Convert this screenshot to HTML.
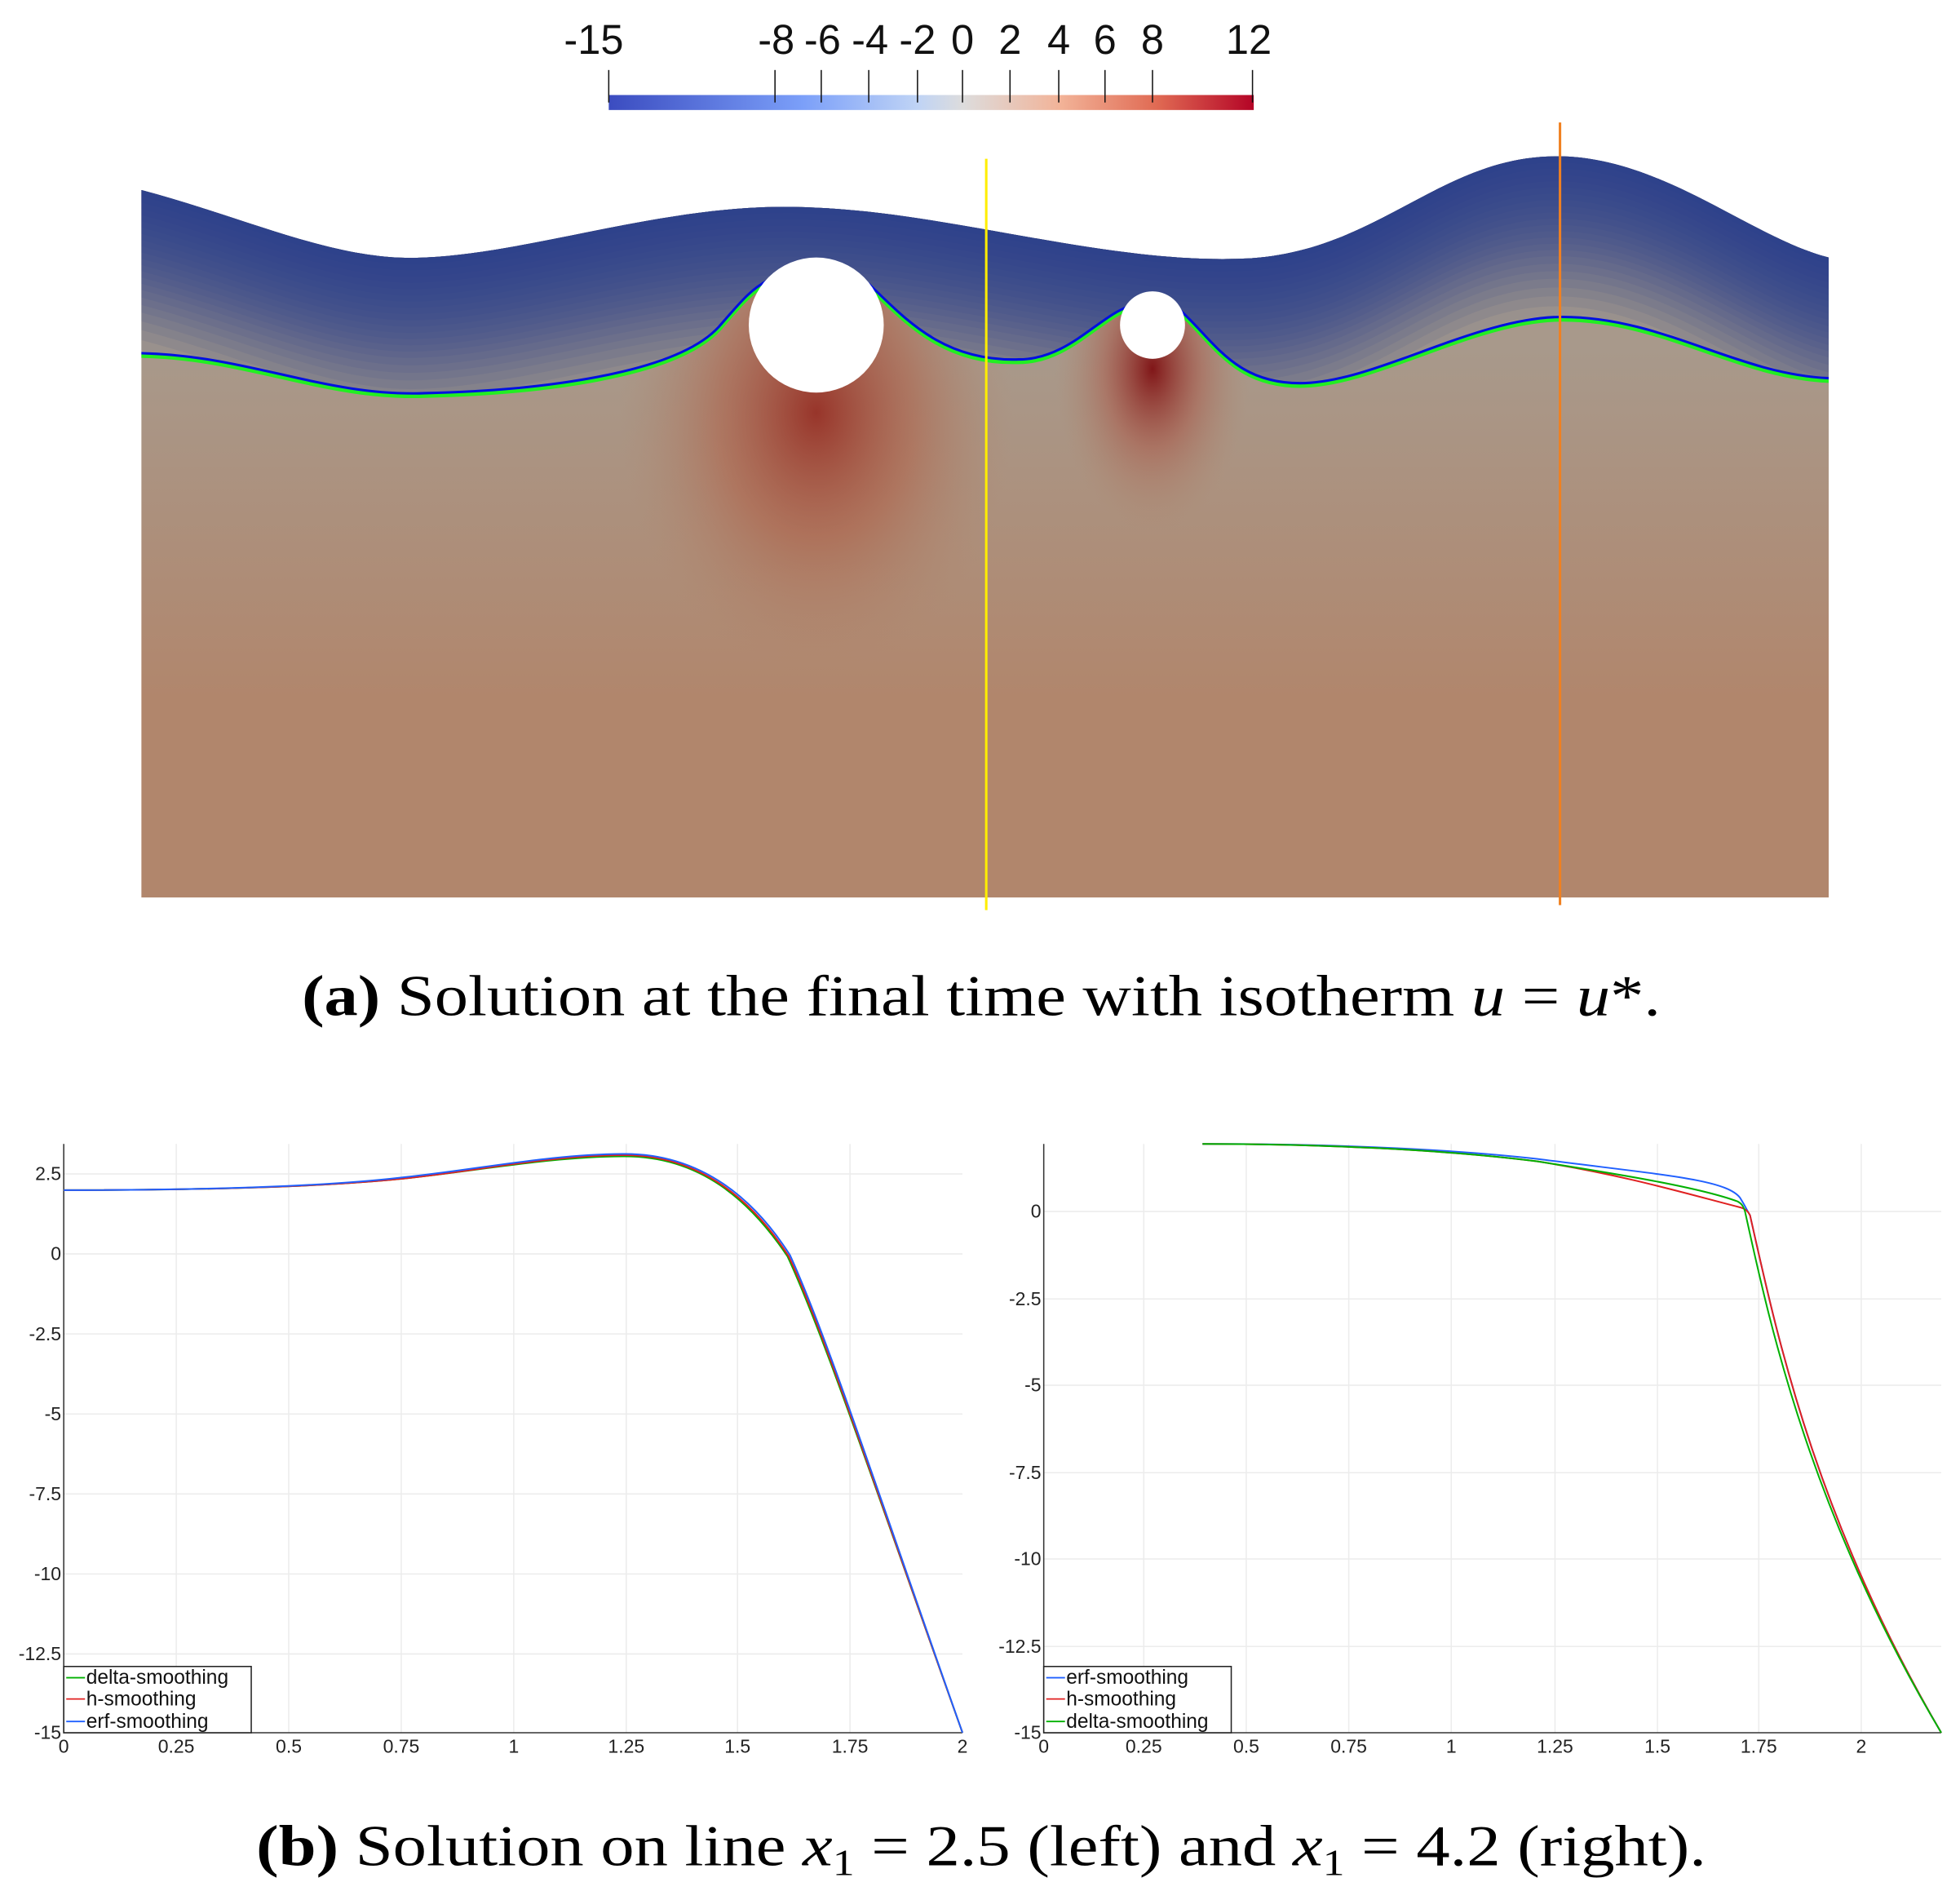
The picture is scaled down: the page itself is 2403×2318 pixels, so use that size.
<!DOCTYPE html>
<html><head><meta charset="utf-8"><style>html,body{margin:0;padding:0;background:#fff}svg{display:block}</style></head>
<body>
<svg width="2403" height="2318" viewBox="0 0 1568 1512.6" preserveAspectRatio="none" xmlns="http://www.w3.org/2000/svg">
<defs>
<linearGradient id="cb" x1="0" x2="1" y1="0" y2="0">
<stop offset="0" stop-color="#3b4cc0"/><stop offset="0.3" stop-color="#7b9ff9"/><stop offset="0.48" stop-color="#c0d4f5"/><stop offset="0.55" stop-color="#dddcdc"/><stop offset="0.7" stop-color="#f2b398"/><stop offset="0.85" stop-color="#e06a53"/><stop offset="1" stop-color="#b40426"/>
</linearGradient>
<linearGradient id="dom" x1="0" x2="0" y1="280" y2="560" gradientUnits="userSpaceOnUse">
<stop offset="0" stop-color="#a8998b"/><stop offset="1" stop-color="#b1866c"/>
</linearGradient>
<radialGradient id="h1" cx="653" cy="330" r="210" gradientTransform="translate(653 330) scale(0.75 1) translate(-653 -330)" gradientUnits="userSpaceOnUse">
<stop offset="0" stop-color="#962a20" stop-opacity="0.9"/><stop offset="0.5" stop-color="#b05a40" stop-opacity="0.5"/><stop offset="1" stop-color="#b1866c" stop-opacity="0"/>
</radialGradient>
<radialGradient id="h2" cx="922" cy="295" r="130" gradientTransform="translate(922 295) scale(0.6 1) translate(-922 -295)" gradientUnits="userSpaceOnUse">
<stop offset="0" stop-color="#7e0f12" stop-opacity="0.95"/><stop offset="0.5" stop-color="#aa5040" stop-opacity="0.45"/><stop offset="1" stop-color="#b1866c" stop-opacity="0"/>
</radialGradient>
<clipPath id="domc"><path d="M113,152 C200,175 270,210 340,206 C430,202 540,160 650,166 C760,170 880,210 990,207 C1100,205 1150,125 1245,125 C1330,125 1400,190 1463,206 L1463,718 L113,718 Z"/></clipPath>
<clipPath id="bandc"><path d="M113,283 C200,285 260,318 340,315 C430,313 540,300 575,262 C590,245 600,232 614,225 L653,260 L692,225 C720,250 750,290 815,288 C855,288 880,252 905,245 L922,260 L940,245 C970,270 985,307 1040,307 C1100,307 1180,254 1250,254 C1330,254 1390,300 1463,303 L1463,0 L113,0 Z"/></clipPath>
<path id="L" d="M113,152 C200,175 270,210 340,206 C430,202 540,160 650,166 C760,170 880,210 990,207 C1100,205 1150,125 1245,125 C1330,125 1400,190 1463,206 L1463,-40 L113,-40Z"/>
<path id="iso" d="M113,283 C200,285 260,318 340,315 C430,313 540,300 575,262 C590,245 600,232 614,225 L653,260 L692,225 C720,250 750,290 815,288 C855,288 880,252 905,245 L922,260 L940,245 C970,270 985,307 1040,307 C1100,307 1180,254 1250,254 C1330,254 1390,300 1463,303" fill="none"/>
</defs>

<g font-family="Liberation Sans, sans-serif" font-size="33" fill="#111" text-anchor="middle">
<text x="475" y="43">-15</text><text x="621" y="43">-8</text><text x="658" y="43">-6</text><text x="696" y="43">-4</text><text x="734" y="43">-2</text><text x="770" y="43">0</text><text x="808" y="43">2</text><text x="847" y="43">4</text><text x="884" y="43">6</text><text x="922" y="43">8</text><text x="999" y="43">12</text>
</g>
<rect x="487" y="76" width="516" height="12" fill="url(#cb)"/>
<g stroke="#111" stroke-width="1">
<line x1="487" y1="56" x2="487" y2="82"/><line x1="620" y1="56" x2="620" y2="82"/><line x1="657" y1="56" x2="657" y2="82"/><line x1="695" y1="56" x2="695" y2="82"/><line x1="734" y1="56" x2="734" y2="82"/><line x1="770" y1="56" x2="770" y2="82"/><line x1="808" y1="56" x2="808" y2="82"/><line x1="847" y1="56" x2="847" y2="82"/><line x1="884" y1="56" x2="884" y2="82"/><line x1="922" y1="56" x2="922" y2="82"/><line x1="1002" y1="56" x2="1002" y2="82"/>
</g>

<g clip-path="url(#domc)">
<rect x="113" y="100" width="1350" height="620" fill="url(#dom)"/>
<ellipse cx="653" cy="330" rx="160" ry="210" fill="url(#h1)"/>
<ellipse cx="922" cy="295" rx="78" ry="130" fill="url(#h2)"/>
<g clip-path="url(#bandc)">
<rect x="113" y="100" width="1350" height="220" fill="#a59a8e"/>
<g fill="#25358a" fill-opacity="0.085">
<use href="#L"/><use href="#L" transform="translate(0,5)"/><use href="#L" transform="translate(0,10)"/><use href="#L" transform="translate(0,15)"/><use href="#L" transform="translate(0,20)"/><use href="#L" transform="translate(0,25)"/><use href="#L" transform="translate(0,30)"/><use href="#L" transform="translate(0,35)"/><use href="#L" transform="translate(0,40)"/><use href="#L" transform="translate(0,45)"/><use href="#L" transform="translate(0,50)"/><use href="#L" transform="translate(0,55)"/><use href="#L" transform="translate(0,60)"/><use href="#L" transform="translate(0,65)"/><use href="#L" transform="translate(0,70)"/><use href="#L" transform="translate(0,75)"/><use href="#L" transform="translate(0,80)"/><use href="#L" transform="translate(0,86)"/><use href="#L" transform="translate(0,92)"/><use href="#L" transform="translate(0,98)"/><use href="#L" transform="translate(0,105)"/><use href="#L" transform="translate(0,112)"/><use href="#L" transform="translate(0,120)"/><use href="#L" transform="translate(0,128)"/>
</g>
</g>
<use href="#iso" stroke="#22ee22" stroke-width="3.5" transform="translate(0,1.5)"/>
<use href="#iso" stroke="#0010e0" stroke-width="2" transform="translate(0,-0.5)"/>
<ellipse cx="653" cy="260" rx="54" ry="54" fill="#fff"/>
<ellipse cx="922" cy="260" rx="26" ry="27" fill="#fff"/>
</g>
<line x1="789" y1="127" x2="789" y2="728" stroke="#ffee00" stroke-width="2"/>
<line x1="1248" y1="98" x2="1248" y2="724" stroke="#f08020" stroke-width="2"/>

<text x="785" y="812" font-family="Liberation Serif, serif" font-size="46" text-anchor="middle" textLength="1087" lengthAdjust="spacingAndGlyphs"><tspan font-weight="bold">(a)</tspan> Solution at the final time with isotherm <tspan font-style="italic">u</tspan> = <tspan font-style="italic">u</tspan>*.</text>

<g stroke="#ececec" stroke-width="1">
<line x1="141" y1="915" x2="141" y2="1386"/><line x1="231" y1="915" x2="231" y2="1386"/><line x1="321" y1="915" x2="321" y2="1386"/><line x1="411" y1="915" x2="411" y2="1386"/><line x1="501" y1="915" x2="501" y2="1386"/><line x1="590" y1="915" x2="590" y2="1386"/><line x1="680" y1="915" x2="680" y2="1386"/>
<line x1="51" y1="939" x2="770" y2="939"/><line x1="51" y1="1003" x2="770" y2="1003"/><line x1="51" y1="1067" x2="770" y2="1067"/><line x1="51" y1="1131" x2="770" y2="1131"/><line x1="51" y1="1195" x2="770" y2="1195"/><line x1="51" y1="1259" x2="770" y2="1259"/><line x1="51" y1="1323" x2="770" y2="1323"/>
<line x1="915" y1="915" x2="915" y2="1386"/><line x1="997" y1="915" x2="997" y2="1386"/><line x1="1079" y1="915" x2="1079" y2="1386"/><line x1="1161" y1="915" x2="1161" y2="1386"/><line x1="1244" y1="915" x2="1244" y2="1386"/><line x1="1326" y1="915" x2="1326" y2="1386"/><line x1="1407" y1="915" x2="1407" y2="1386"/><line x1="1489" y1="915" x2="1489" y2="1386"/>
<line x1="835" y1="969" x2="1553" y2="969"/><line x1="835" y1="1039" x2="1553" y2="1039"/><line x1="835" y1="1108" x2="1553" y2="1108"/><line x1="835" y1="1178" x2="1553" y2="1178"/><line x1="835" y1="1247" x2="1553" y2="1247"/><line x1="835" y1="1317" x2="1553" y2="1317"/>
</g>
<g stroke="#333" stroke-width="1" fill="none">
<path d="M51,915 V1386 H770"/>
<path d="M835,915 V1386 H1553"/>
</g>
<g fill="none" stroke-width="1.3">
<path stroke="#00b000" d="M51,952 C150,952 250,950 320,943 C380,937 440,925 500,925 C560,925 600,960 630,1005 C660,1070 700,1190 770,1386"/>
<path stroke="#e02020" d="M51,952 C150,952 250,950 320,943 C380,937 440,924 500,924 C560,924 602,960 631,1005 C661,1070 700,1190 770,1386"/>
<path stroke="#2060ff" d="M51,952 C150,952 250,950 320,942 C380,936 440,923 500,923 C562,923 604,960 632,1004 C662,1070 701,1190 770,1386"/>
<path stroke="#2060ff" d="M962,915 C1050,915 1150,918 1230,927 C1330,940 1380,943 1392,958 C1397,966 1398,969 1400,972 C1420,1060 1450,1210 1553,1386"/>
<path stroke="#e02020" d="M962,915 C1050,915 1150,919 1230,929 C1300,940 1350,955 1393,966 C1397,967 1399,970 1400,972 C1420,1060 1450,1210 1553,1386"/>
<path stroke="#00b000" d="M962,915 C1050,915 1150,919 1230,929 C1300,940 1360,950 1390,961 C1394,963 1395,966 1396,969 C1416,1060 1448,1210 1553,1386"/>
</g>
<g font-family="Liberation Sans, sans-serif" font-size="15" fill="#222" text-anchor="end">
<text x="49" y="944">2.5</text><text x="49" y="1008">0</text><text x="49" y="1072">-2.5</text><text x="49" y="1136">-5</text><text x="49" y="1200">-7.5</text><text x="49" y="1264">-10</text><text x="49" y="1328">-12.5</text><text x="49" y="1391">-15</text>
<text x="833" y="974">0</text><text x="833" y="1044">-2.5</text><text x="833" y="1113">-5</text><text x="833" y="1183">-7.5</text><text x="833" y="1252">-10</text><text x="833" y="1322">-12.5</text><text x="833" y="1391">-15</text>
</g>
<g font-family="Liberation Sans, sans-serif" font-size="15" fill="#222" text-anchor="middle">
<text x="51" y="1402">0</text><text x="141" y="1402">0.25</text><text x="231" y="1402">0.5</text><text x="321" y="1402">0.75</text><text x="411" y="1402">1</text><text x="501" y="1402">1.25</text><text x="590" y="1402">1.5</text><text x="680" y="1402">1.75</text><text x="770" y="1402">2</text>
<text x="835" y="1402">0</text><text x="915" y="1402">0.25</text><text x="997" y="1402">0.5</text><text x="1079" y="1402">0.75</text><text x="1161" y="1402">1</text><text x="1244" y="1402">1.25</text><text x="1326" y="1402">1.5</text><text x="1407" y="1402">1.75</text><text x="1489" y="1402">2</text>
</g>
<rect x="51" y="1333" width="150" height="53" fill="#fff" stroke="#222" stroke-width="1"/>
<rect x="835" y="1333" width="150" height="53" fill="#fff" stroke="#222" stroke-width="1"/>
<g stroke-width="1.2">
<line x1="53" y1="1342" x2="68" y2="1342" stroke="#00b000"/><line x1="53" y1="1359" x2="68" y2="1359" stroke="#e02020"/><line x1="53" y1="1377" x2="68" y2="1377" stroke="#2060ff"/>
<line x1="837" y1="1342" x2="852" y2="1342" stroke="#2060ff"/><line x1="837" y1="1359" x2="852" y2="1359" stroke="#e02020"/><line x1="837" y1="1377" x2="852" y2="1377" stroke="#00b000"/>
</g>
<g font-family="Liberation Sans, sans-serif" font-size="16" fill="#111">
<text x="69" y="1347">delta-smoothing</text><text x="69" y="1364">h-smoothing</text><text x="69" y="1382">erf-smoothing</text>
<text x="853" y="1347">erf-smoothing</text><text x="853" y="1364">h-smoothing</text><text x="853" y="1382">delta-smoothing</text>
</g>

<text x="785" y="1492" font-family="Liberation Serif, serif" font-size="46" text-anchor="middle" textLength="1160" lengthAdjust="spacingAndGlyphs"><tspan font-weight="bold">(b)</tspan> Solution on line <tspan font-style="italic">x</tspan><tspan font-size="30" dy="8">1</tspan><tspan dy="-8"> = 2.5 (left) and </tspan><tspan font-style="italic">x</tspan><tspan font-size="30" dy="8">1</tspan><tspan dy="-8"> = 4.2 (right).</tspan></text>
</svg>
</body></html>
